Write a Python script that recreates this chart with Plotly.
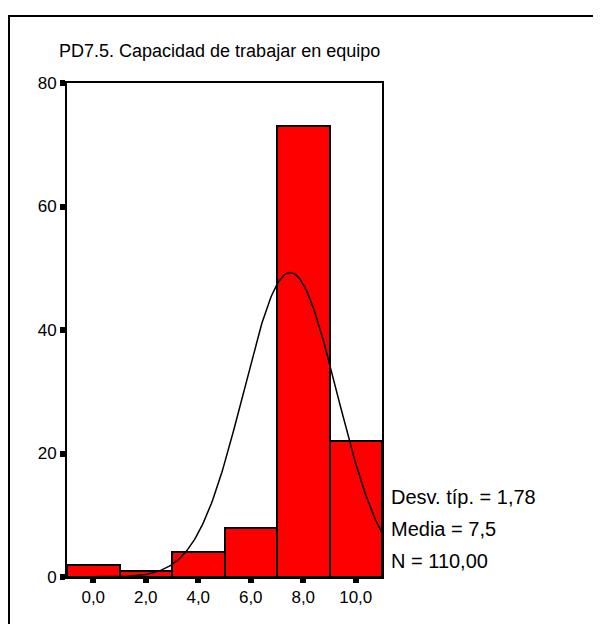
import numpy as np
import plotly.graph_objects as go

# ---- data ----
bin_centers = [0, 2, 4, 6, 8, 10]
counts = [2, 1, 4, 8, 73, 22]
tick_vals = [0, 2, 4, 6, 8, 10]
tick_text = ["0,0", "2,0", "4,0", "6,0", "8,0", "10,0"]
y_tick_vals = [0, 20, 40, 60, 80]
y_tick_text = ["0", "20", "40", "60", "80"]
title_text = "PD7.5. Capacidad de trabajar en equipo"
stat_mean = 7.5
stat_sd = 1.78
stat_n = 110
bin_width = 2
stats_lines = ["Desv. típ. = 1,78", "Media = 7,5", "N = 110,00"]

# normal curve implied by the stated mean / sd / N
xc = np.linspace(-1, 11, 241)
yc = stat_n * bin_width * np.exp(-0.5 * ((xc - stat_mean) / stat_sd) ** 2) / (stat_sd * np.sqrt(2 * np.pi))

W, H = 601, 624
OFF = 8  # page body margin offset
L, R, T, B = 67 - OFF, 382 - OFF, 83 - OFF, 577 - OFF  # plot area pixel box (figure coords)
FONT = "Liberation Sans, Arial, sans-serif"

fig = go.Figure()
fig.add_trace(go.Bar(
    x=bin_centers, y=counts, width=bin_width,
    marker=dict(color="#FF0000", line=dict(color="black", width=2)),
    hoverinfo="x+y", showlegend=False,
))
fig.add_trace(go.Scatter(
    x=xc, y=yc, mode="lines", line=dict(color="black", width=1.5),
    showlegend=False, hoverinfo="skip",
))

def px_x(p):
    return (p - L) / (R - L)

def px_y(p):
    return (B - p) / (B - T)

shapes = [dict(type="rect", xref="paper", yref="paper",
               x0=px_x(1), x1=px_x(W + 50), y0=px_y(16 - OFF), y1=px_y(H + 50),
               line=dict(color="black", width=2), fillcolor="rgba(0,0,0,0)", layer="above")]

annotations = [dict(text=title_text, xref="paper", yref="paper",
                    x=px_x(57 - OFF), y=px_y(51 - OFF), xanchor="left", yanchor="middle",
                    showarrow=False, font=dict(family=FONT, size=18, color="black"))]
for i, s in enumerate(stats_lines):
    annotations.append(dict(text=s, xref="paper", yref="paper",
                            x=px_x(389 - OFF), y=px_y(497 - OFF + 32 * i), xanchor="left", yanchor="middle",
                            showarrow=False, font=dict(family=FONT, size=20, color="black")))

fig.update_layout(
    width=W, height=H,
    margin=dict(l=L, r=W - R, t=T, b=H - B, pad=0),
    paper_bgcolor="white", plot_bgcolor="white",
    bargap=0,
    shapes=shapes, annotations=annotations,
    font=dict(family=FONT, color="black"),
    xaxis=dict(range=[-1, 11], tickvals=tick_vals, ticktext=tick_text,
               ticks="outside", ticklen=4, tickwidth=6, tickcolor="black",
               showline=True, linecolor="black", linewidth=2, mirror=True,
               showgrid=False, zeroline=False, fixedrange=True,
               tickfont=dict(family=FONT, size=17, color="black")),
    yaxis=dict(range=[0, 80], tickvals=y_tick_vals, ticktext=y_tick_text,
               ticks="outside", ticklen=5, tickwidth=6, tickcolor="black",
               showline=True, linecolor="black", linewidth=2, mirror=True,
               showgrid=False, zeroline=False, fixedrange=True,
               tickfont=dict(family=FONT, size=17, color="black")),
)

fig.write_html("out.html")
